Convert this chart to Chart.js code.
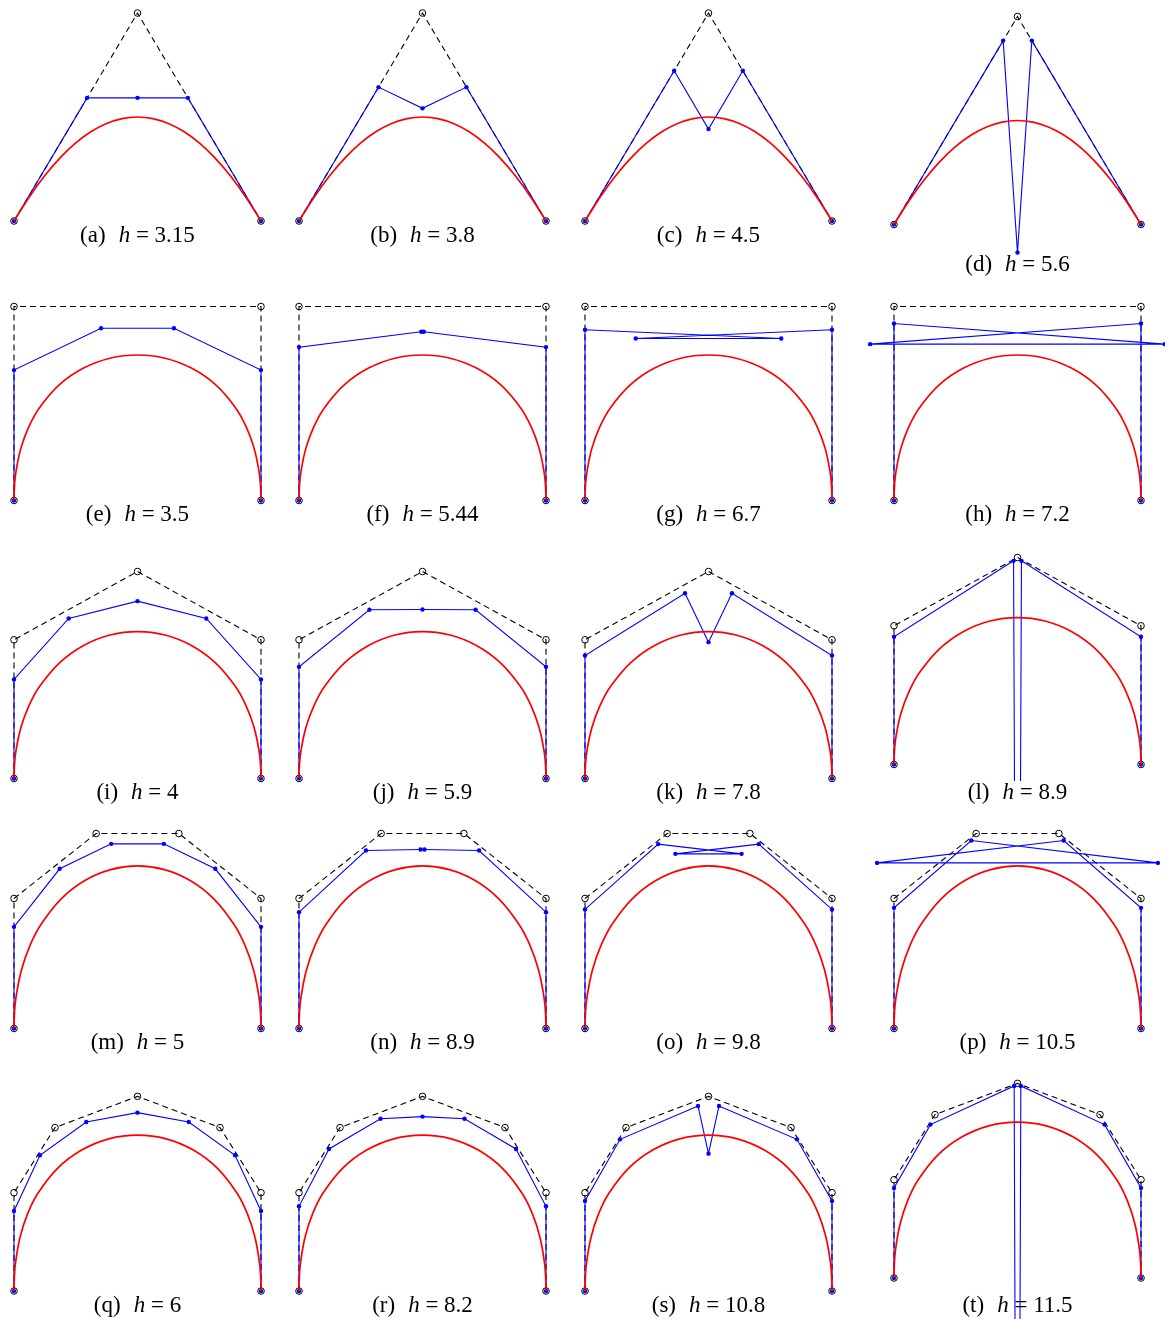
<!DOCTYPE html>
<html>
<head>
<meta charset="utf-8">
<script src="https://cdn.jsdelivr.net/npm/chart.js@4.4.1/dist/chart.umd.min.js"></script>
<style>
  html, body { margin: 0; padding: 0; background: #fff; overflow: hidden; }
  body { width: 1165px; height: 1319px; position: relative; }
  canvas.panel { position: absolute; }
  .cap {
    position: absolute;
    font-family: "Liberation Serif", "Times New Roman", serif;
    font-size: 23px;
    line-height: 23px;
    white-space: nowrap;
    color: #000;
    transform: translateX(-50%);
  }
  .cap .math { margin-left: 13px; }
</style>
</head>
<body>
<script>
// ---- captions ----
const PANEL_TAGS = ['a','b','c','d','e','f','g','h','i','j','k','l','m','n','o','p','q','r','s','t'];
const H_LABELS = ['3.15','3.8','4.5','5.6','3.5','5.44','6.7','7.2','4','5.9','7.8','8.9','5','8.9','9.8','10.5','6','8.2','10.8','11.5'];

// ---- control polygons (one per row), x in [-1, 1] ----
const CONTROL_ROW1 = [[-1,0],[0,1.684],[1,0]];
const CONTROL_ROW2 = [[-1,0],[-1,1.571],[1,1.571],[1,0]];
const CONTROL_ROW3 = [[-1,0],[-1,1.123],[0,1.676],[1,1.123],[1,0]];
const CONTROL_ROW4 = [[-1,0],[-1,1.053],[-0.335,1.579],[0.335,1.579],[1,1.053],[1,0]];
const CONTROL_ROW5 = [[-1,0],[-1,0.796],[-0.668,1.323],[0,1.576],[0.668,1.323],[1,0.796],[1,0]];

// ---- curves (one per row) ----
const CURVE_ROW1 = [[-1,0],[-0.875,0.197],[-0.75,0.368],[-0.625,0.513],[-0.5,0.632],[-0.375,0.724],[-0.25,0.789],[-0.125,0.829],[0,0.842],
                    [0.125,0.829],[0.25,0.789],[0.375,0.724],[0.5,0.632],[0.625,0.513],[0.75,0.368],[0.875,0.197],[1,0]];
const CURVE_ROW2 = [[-1,0],[-0.9963,0.115],[-0.9855,0.224],[-0.944,0.424],[-0.8785,0.601],[-0.792,0.754],[-0.6294,0.940],[-0.4365,1.072],[-0.2233,1.152],[0,1.178],
                    [0.2233,1.152],[0.4365,1.072],[0.6294,0.940],[0.792,0.754],[0.8785,0.601],[0.944,0.424],[0.9855,0.224],[0.9963,0.115],[1,0]];
const CURVE_ROW3 = [[-1,0],[-0.9963,0.110],[-0.9855,0.216],[-0.944,0.413],[-0.8785,0.590],[-0.792,0.746],[-0.6294,0.938],[-0.4365,1.077],[-0.2233,1.162],[0,1.190],
                    [0.2233,1.162],[0.4365,1.077],[0.6294,0.938],[0.792,0.746],[0.8785,0.590],[0.944,0.413],[0.9855,0.216],[0.9963,0.110],[1,0]];
const CURVE_ROW4 = [[-1,0],[-0.996,0.128],[-0.9842,0.250],[-0.9398,0.474],[-0.8711,0.671],[-0.782,0.842],[-0.6178,1.050],[-0.4264,1.198],[-0.2175,1.286],[0,1.316],
                    [0.2175,1.286],[0.4264,1.198],[0.6178,1.050],[0.782,0.842],[0.8711,0.671],[0.9398,0.474],[0.9842,0.250],[0.996,0.128],[1,0]];
const CURVE_ROW5 = [[-1,0],[-0.9969,0.117],[-0.9876,0.229],[-0.9506,0.437],[-0.8901,0.624],[-0.8077,0.789],[-0.6477,0.993],[-0.4523,1.141],[-0.2325,1.232],[0,1.262],
                    [0.2325,1.232],[0.4523,1.141],[0.6477,0.993],[0.8077,0.789],[0.8901,0.624],[0.9506,0.437],[0.9876,0.229],[0.9969,0.117],[1,0]];

// ---- blue polygons (one per panel) ----
const BLUE_A = [[-1,0],[-0.408,0.997],[0,0.997],[0.408,0.997],[1,0]];
const BLUE_B = [[-1,0],[-0.356,1.084],[0,0.912],[0.356,1.084],[1,0]];
const BLUE_C = [[-1,0],[-0.278,1.216],[0,0.744],[0.278,1.216],[1,0]];
const BLUE_D = [[-1,0],[-0.116,1.489],[0,-0.227],[0.116,1.489],[1,0]];
const BLUE_E = [[-1,0],[-1,1.056],[-0.295,1.395],[0.295,1.395],[1,1.056],[1,0]];
const BLUE_F = [[-1,0],[-1,1.242],[-0.01,1.366],[0.01,1.366],[1,1.242],[1,0]];
const BLUE_G = [[-1,0],[-1,1.382],[0.589,1.312],[-0.589,1.312],[1,1.382],[1,0]];
const BLUE_H = [[-1,0],[-1,1.433],[1.193,1.266],[-1.193,1.266],[1,1.433],[1,0]];
const BLUE_I = [[-1,0],[-1,0.802],[-0.557,1.296],[0,1.436],[0.557,1.296],[1,0.802],[1,0]];
const BLUE_J = [[-1,0],[-1,0.904],[-0.43,1.366],[0,1.369],[0.43,1.366],[1,0.904],[1,0]];
const BLUE_K = [[-1,0],[-1,0.996],[-0.19,1.5],[0,1.104],[0.19,1.5],[1,0.996],[1,0]];
const BLUE_L = [[-1,0],[-1,1.034],[-0.032,1.649],[0,-6],[0.032,1.649],[1,1.034],[1,0]];
const BLUE_M = [[-1,0],[-1,0.823],[-0.63,1.293],[-0.213,1.495],[0.213,1.495],[0.63,1.293],[1,0.823],[1,0]];
const BLUE_N = [[-1,0],[-1,0.942],[-0.458,1.441],[-0.016,1.449],[0.016,1.449],[0.458,1.441],[1,0.942],[1,0]];
const BLUE_O = [[-1,0],[-1,0.964],[-0.407,1.493],[0.268,1.414],[-0.268,1.414],[0.407,1.493],[1,0.964],[1,0]];
const BLUE_P = [[-1,0],[-1,0.977],[-0.374,1.522],[1.137,1.341],[-1.137,1.341],[0.374,1.522],[1,0.977],[1,0]];
const BLUE_Q = [[-1,0],[-1,0.648],[-0.79,1.099],[-0.415,1.368],[0,1.444],[0.415,1.368],[0.79,1.099],[1,0.648],[1,0]];
const BLUE_R = [[-1,0],[-1,0.686],[-0.757,1.150],[-0.34,1.395],[0,1.412],[0.34,1.395],[0.757,1.150],[1,0.686],[1,0]];
const BLUE_S = [[-1,0],[-1,0.729],[-0.716,1.228],[-0.085,1.498],[0,1.112],[0.085,1.498],[0.716,1.228],[1,0.729],[1,0]];
const BLUE_T = [[-1,0],[-1,0.729],[-0.705,1.242],[-0.027,1.555],[0,-6],[0.027,1.555],[0.705,1.242],[1,0.729],[1,0]];

// ---- lookup tables built from the arrays above ----
const CONTROLS = [CONTROL_ROW1, CONTROL_ROW2, CONTROL_ROW3, CONTROL_ROW4, CONTROL_ROW5];
const CURVES = [CURVE_ROW1, CURVE_ROW2, CURVE_ROW3, CURVE_ROW4, CURVE_ROW5];
const BLUES = [BLUE_A, BLUE_B, BLUE_C, BLUE_D, BLUE_E, BLUE_F, BLUE_G, BLUE_H, BLUE_I, BLUE_J,
               BLUE_K, BLUE_L, BLUE_M, BLUE_N, BLUE_O, BLUE_P, BLUE_Q, BLUE_R, BLUE_S, BLUE_T];

// ---- page layout (pixels) ----
const UNIT = 123.5;                       // pixels per data unit, both axes
const COL_CX = [137.5, 422.5, 708.5, 1017.5];
const ROW_BASE = [221, 500.5, 778.5, 1028.5, 1291];
const CAPTION_BASELINE = [241.5, 521, 799, 1049, 1311.5];
const CANVAS_W = 310, ABOVE_BASE = 235;

const RED = '#ff0000', BLUE = '#0000ff', BLACK = '#000000';

function frame(i) {
  const row = Math.floor(i / 4), col = i % 4;
  let base = ROW_BASE[row], cap = CAPTION_BASELINE[row], bottom = base + 12;
  if (i === 3)  { base = 224.5; bottom = 258; cap = 270.5; }
  if (i === 11) { base = 764.5; bottom = 781; }
  if (i === 19) { base = 1278;  bottom = 1319; }
  return { row, cx: COL_CX[col], base, bottom, cap };
}

const toXY = arr => arr.map(p => ({ x: p[0], y: p[1] }));

function makePanel(i) {
  const f = frame(i);
  const left = Math.round(f.cx - CANVAS_W / 2);
  const top = Math.round(f.base - ABOVE_BASE);
  const h = Math.round(f.bottom) - top;

  const cv = document.createElement('canvas');
  cv.className = 'panel';
  cv.width = CANVAS_W; cv.height = h;
  cv.style.left = left + 'px'; cv.style.top = top + 'px';
  cv.style.width = CANVAS_W + 'px'; cv.style.height = h + 'px';
  document.body.appendChild(cv);

  new Chart(cv, {
    type: 'scatter',
    data: {
      datasets: [
        { data: toXY(CURVES[f.row]), showLine: true, borderColor: RED, borderWidth: 1.7,
          pointRadius: 0, tension: 0.4, order: 0 },
        { data: toXY(BLUES[i]), showLine: true, borderColor: BLUE, borderWidth: 1.1, tension: 0,
          pointRadius: 2.2, pointBackgroundColor: BLUE, pointBorderWidth: 0, order: 1 },
        { data: toXY(CONTROLS[f.row]), showLine: true, borderColor: BLACK, borderWidth: 1.1,
          borderDash: [6, 4], tension: 0, pointRadius: 3.3, pointBackgroundColor: 'rgba(0,0,0,0)',
          pointBorderColor: BLACK, pointBorderWidth: 1, order: 2 }
      ]
    },
    options: {
      responsive: false,
      animation: false,
      devicePixelRatio: 1,
      events: [],
      layout: { padding: 0, autoPadding: false },
      plugins: { legend: { display: false }, tooltip: { enabled: false } },
      scales: {
        x: { type: 'linear', display: false,
             min: (left - f.cx) / UNIT, max: (left + CANVAS_W - f.cx) / UNIT },
        y: { type: 'linear', display: false,
             min: (f.base - Math.round(f.bottom)) / UNIT, max: (f.base - top) / UNIT }
      }
    }
  });

  // caption: "(x)  h = value"
  const cap = document.createElement('div');
  cap.className = 'cap';
  cap.style.left = f.cx + 'px';
  cap.style.top = (f.cap - 19) + 'px';
  const tag = document.createElement('span');
  tag.textContent = '(' + PANEL_TAGS[i] + ')';
  const math = document.createElement('span');
  math.className = 'math';
  const hv = document.createElement('i');
  hv.textContent = 'h';
  math.appendChild(hv);
  math.appendChild(document.createTextNode(' = ' + H_LABELS[i]));
  cap.appendChild(tag);
  cap.appendChild(math);
  document.body.appendChild(cap);
}

for (let i = 0; i < BLUES.length; i++) makePanel(i);
</script>
</body>
</html>
